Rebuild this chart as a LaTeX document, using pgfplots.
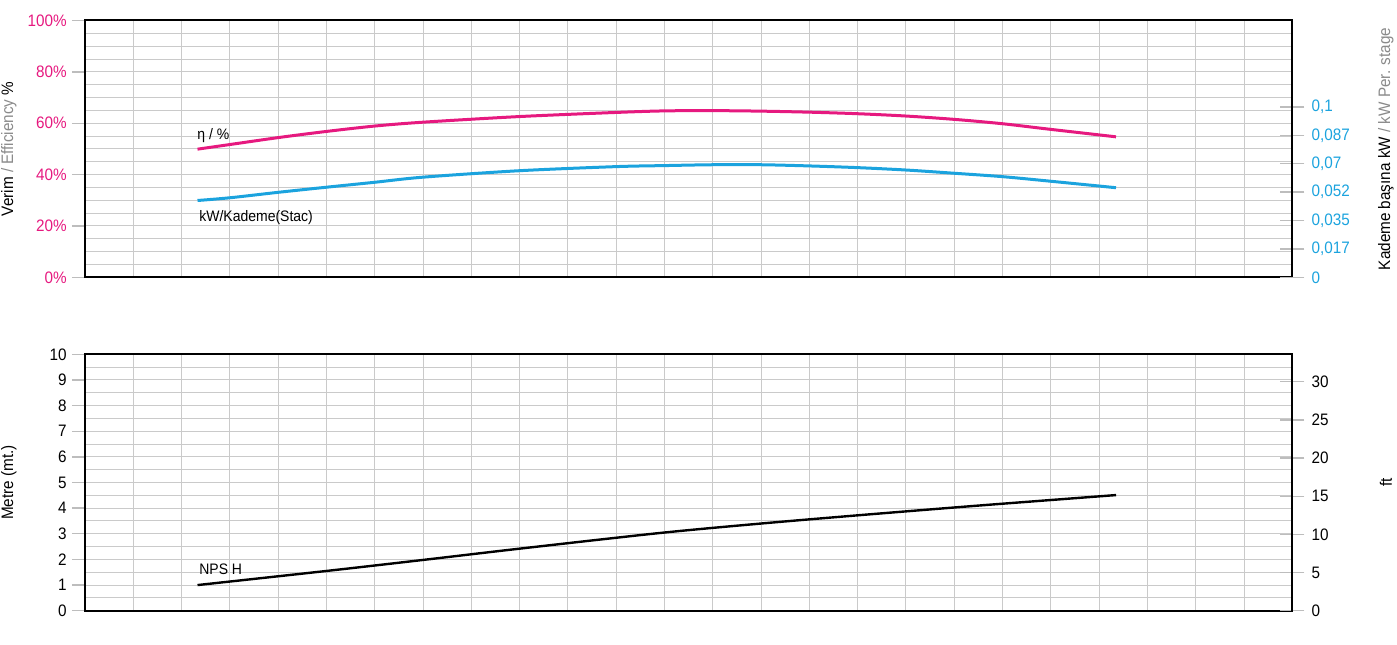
\documentclass[border=0pt]{standalone}
\usepackage{pgfplots}
\pgfplotsset{compat=1.18}
\usepackage{fontspec}
\setmainfont{Liberation Sans}[FakeStretch=0.92]
\definecolor{mag}{HTML}{E6197F}
\definecolor{cy}{HTML}{1BA3DE}
\definecolor{gridc}{HTML}{CACACA}
\definecolor{tickc}{HTML}{BDBDBD}
\definecolor{lblg}{HTML}{8A8A8A}
\pgfplotsset{
  base/.style={
    scale only axis, width=603.65pt, clip=false,
    xmin=0, xmax=25, xtick={0,...,25}, xticklabels={},
    x tick style={draw=none},
    /pgf/number format/assume math mode=true,
    tick label style={font=\fontsize{8.3}{9}\selectfont},
    axis line style={line width=1pt, black},
  },
  leftax/.style={
    base, xmajorgrids, ymajorgrids, yminorgrids,
    grid style={gridc, line width=0.5pt},
    minor grid style={gridc, line width=0.5pt},
    ytick pos=left, tick align=outside,
    major tick length=6.5pt, minor tick length=0pt,
    y tick style={tickc, line width=0.7pt},
    yticklabel style={inner sep=1pt, xshift=-1.5pt},
  },
  rightax/.style={
    base, axis x line=none, axis y line*=right,
    tick align=center, major tick length=12pt,
    y tick style={tickc, line width=0.7pt},
    yticklabel style={inner sep=1pt, xshift=2.5pt, anchor=west},
  },
}
\begin{document}
\begin{tikzpicture}
\useasboundingbox (0,0) rectangle (698.5pt,322pt);
% ---------- top panel ----------
\begin{axis}[leftax, at={(42.5pt,183.35pt)}, anchor=south west, height=128.4pt,
  ymin=0, ymax=100, ytick={0,20,...,100},
  yticklabels={0\%,20\%,40\%,60\%,80\%,100\%},
  minor ytick={5,10,...,95},
  yticklabel style={mag}]
\addplot[mag, line width=1.5pt, smooth] coordinates {
 (2.33,49.9) (3,51.7) (4,54.4) (5,56.8) (6,58.9) (7,60.4) (9,62.6) (11,64.2) (12,64.8)
 (13,64.9) (14,64.7) (15,64.3) (16,63.7) (17,62.8) (18,61.5) (19,59.8) (20,57.6) (21.35,54.7)};
\node[anchor=base west, font=\fontsize{7.6}{9}\selectfont, inner sep=0pt] at (axis cs:2.32,53.8) {η / \%};
\node[anchor=base west, font=\fontsize{7.6}{9}\selectfont, inner sep=0pt] at (axis cs:2.36,21.7) {kW/Kademe(Stac)};
\node[rotate=90, font=\fontsize{8.3}{9}\selectfont] at (rel axis cs:-0.0630,0.5) {Verim \textcolor{lblg}{/ Efficiency} \%};
\node[rotate=90, font=\fontsize{8.3}{9}\selectfont] at (rel axis cs:1.0775,0.5) {Kademe başına kW \textcolor{lblg}{/ kW Per. stage}};
\end{axis}
\begin{axis}[rightax, at={(42.5pt,183.35pt)}, anchor=south west, height=128.4pt,
  ymin=0, ymax=0.1508,
  ytick={0,0.016667,0.033333,0.05,0.066667,0.083333,0.1},
  yticklabels={0,{0,017},{0,035},{0,052},{0,07},{0,087},{0,1}},
  yticklabel style={cy}]
\addplot[cy, line width=1.5pt, smooth] coordinates {
 (2.33,0.0451) (3,0.0467) (4,0.0499) (5,0.0529) (6,0.0558) (7,0.0588) (9,0.0626) (11,0.0650)
 (12,0.0656) (13,0.0661) (14,0.0661) (15,0.0654) (16,0.0644) (17,0.0630) (18,0.0611)
 (19,0.0591) (20,0.0564) (21.35,0.0526)};
\end{axis}
% ---------- bottom panel ----------
\begin{axis}[leftax, at={(42.5pt,16.65pt)}, anchor=south west, height=128.2pt,
  ymin=0, ymax=10, ytick={0,...,10},
  minor ytick={0.5,1.5,...,9.5}]
\addplot[black, line width=1.2pt, smooth] coordinates {
 (2.33,1.0) (5,1.55) (7,1.98) (9,2.42) (11.9,3.03) (14,3.4) (16,3.72) (18.5,4.1) (21.35,4.51)};
\node[anchor=base west, font=\fontsize{7.6}{9}\selectfont, inner sep=0pt] at (axis cs:2.36,1.43) {NPS H};
\node[rotate=90, font=\fontsize{8.3}{9}\selectfont] at (rel axis cs:-0.0630,0.5) {Metre (mt.)};
\node[rotate=90, font=\fontsize{8.3}{9}\selectfont] at (rel axis cs:1.0775,0.5) {ft};
\end{axis}
\begin{axis}[rightax, at={(42.5pt,16.65pt)}, anchor=south west, height=128.2pt,
  ymin=0, ymax=33.59, ytick={0,5,...,30}]
\end{axis}
\end{tikzpicture}
\end{document}
